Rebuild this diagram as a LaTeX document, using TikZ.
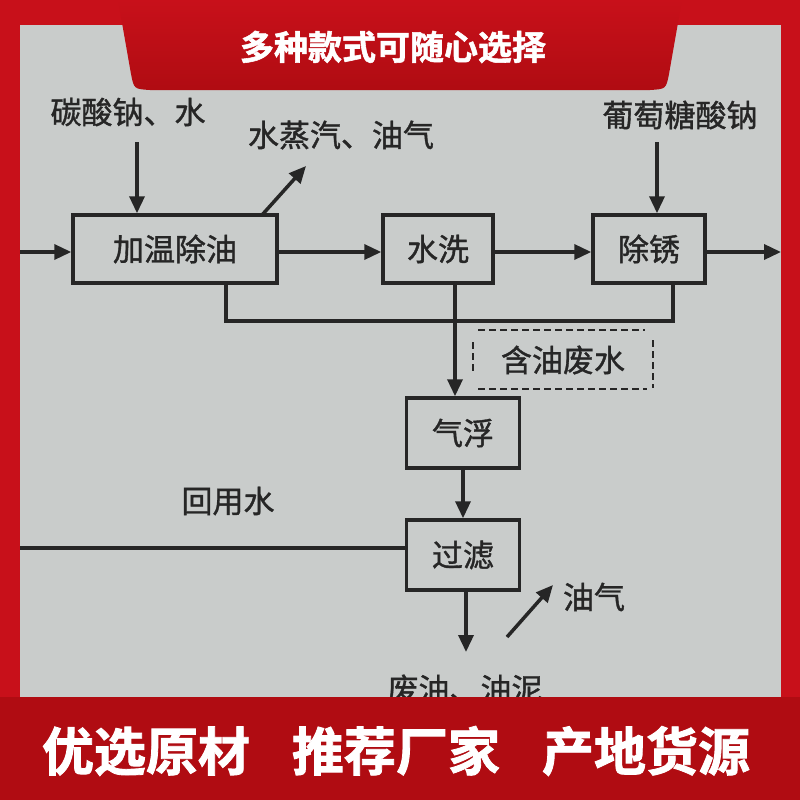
\documentclass[tikz,border=0pt]{standalone}
\usepackage{fontspec}
\setmainfont{Noto Sans CJK SC}
\newfontfamily\medfont{Noto Sans CJK SC}[FakeBold=1.2]
\newfontfamily\heavyfont{Noto Sans CJK SC}[UprightFont=* Bold, FakeBold=1.6]
\usetikzlibrary{arrows.meta}
\definecolor{wall}{HTML}{C9CCCB}
\definecolor{ink}{HTML}{262626}
\definecolor{bannerred}{HTML}{C8101A}
\definecolor{bannerdark}{HTML}{B00C12}
\tikzset{
  flow/.style={line width=3.5pt, draw=ink},
  arr/.style={flow, -{Triangle[length=17pt,width=15pt]}},
  procbox/.style={flow, rectangle, inner sep=0pt, minimum height=68pt, font=\medfont\fontsize{31}{33}\selectfont, text=ink},
  lbl/.style={font=\medfont\fontsize{31}{33}\selectfont, text=ink, inner sep=0pt},
  dashline/.style={line width=1.6pt, draw=ink, dash pattern=on 7pt off 4pt},
  bannertext/.style={text=white, inner sep=0pt}
}
\begin{document}
\begin{tikzpicture}[x=1pt,y=-1pt]
\useasboundingbox (0,0) rectangle (800,800);
% background
\fill[bannerred] (0,0) rectangle (800,800);
\fill[wall] (20,25) rectangle (781,697);
% boxes
\node[procbox, minimum width=204pt] (jw) at (175,249) {加温除油};
\node[procbox, minimum width=110pt] (sx) at (438,249) {水洗};
\node[procbox, minimum width=112pt] (cx) at (649,249) {除锈};
\node[procbox, minimum width=113pt, minimum height=70pt] (qf) at (463,433) {气浮};
\node[procbox, minimum width=113pt, minimum height=70pt] (gl) at (463,555) {过滤};
% labels
\node[lbl] (l1) at (128,112) {碳酸钠、水};
\node[lbl] (l2) at (341,135) {水蒸汽、油气};
\node[lbl] (l3) at (680,115) {葡萄糖酸钠};
\node[lbl] (l4) at (563,360) {含油废水};
\node[lbl] (l5) at (228,501) {回用水};
\node[lbl] (l6) at (594,597) {油气};
\node[lbl] (l7) at (465,689) {废油、油泥};
% coordinates
\coordinate (inL) at (20,252);
\coordinate (outR) at (781,252);
\coordinate (a1) at (137,142);
\coordinate (a3) at (657,142);
\coordinate (s0) at (262,215);
\coordinate (s1) at (306,166);
\coordinate (c1) at (226,321);
\coordinate (c2) at (673,321);
\coordinate (v1) at (455,321);
\coordinate (rw) at (20,548);
\coordinate (f1) at (466,652);
\coordinate (g0) at (507,637);
\coordinate (g1) at (553,585);
% connectors
\draw[arr] (inL) -- (inL -| jw.west);
\draw[arr] (jw.east |- inL) -- (sx.west |- inL);
\draw[arr] (sx.east |- inL) -- (cx.west |- inL);
\draw[arr] (cx.east |- inL) -- (outR);
\draw[arr] (a1) -- (a1 |- jw.north);
\draw[arr] (a3) -- (a3 |- cx.north);
\draw[arr] (s0) -- (s1);
\draw[flow] (jw.south -| c1) -- (c1) -- (c2) -- (cx.south -| c2);
\draw[flow] (sx.south -| v1) -- (v1);
\draw[arr] (v1) -- (qf.north -| v1);
\draw[arr] (qf.south) -- (gl.north);
\draw[flow] (gl.west |- rw) -- (rw);
\draw[arr] (gl.south -| f1) -- (f1);
\draw[arr] (g0) -- (g1);
% dashed frame
\draw[dashline] (478,330) -- (645,330);
\draw[dashline] (478,389) -- (647,389);
\draw[dashline] (473,342) -- (473,372);
\draw[dashline] (653,340) -- (653,388);
% bottom banner over the clipped text
\fill[bannerdark] (0,697) rectangle (800,800);
\node[bannertext, font=\heavyfont\fontsize{52}{54}\selectfont] (bt) at (396,751) {优选原材\hspace{42pt}推荐厂家\hspace{42pt}产地货源};
% top banner
\fill[bannerred] (0,0) rectangle (800,25);
\shade[top color=bannerred, bottom color=bannerdark] (118,0) -- (131,74) .. controls (134,89) .. (150,90) -- (650,90) .. controls (666,89) .. (669,74) -- (682,0) -- cycle;
\node[bannertext, font=\heavyfont\fontsize{34}{36}\selectfont] (tt) at (393,47) {多种款式可随心选择};
\end{tikzpicture}
\end{document}
